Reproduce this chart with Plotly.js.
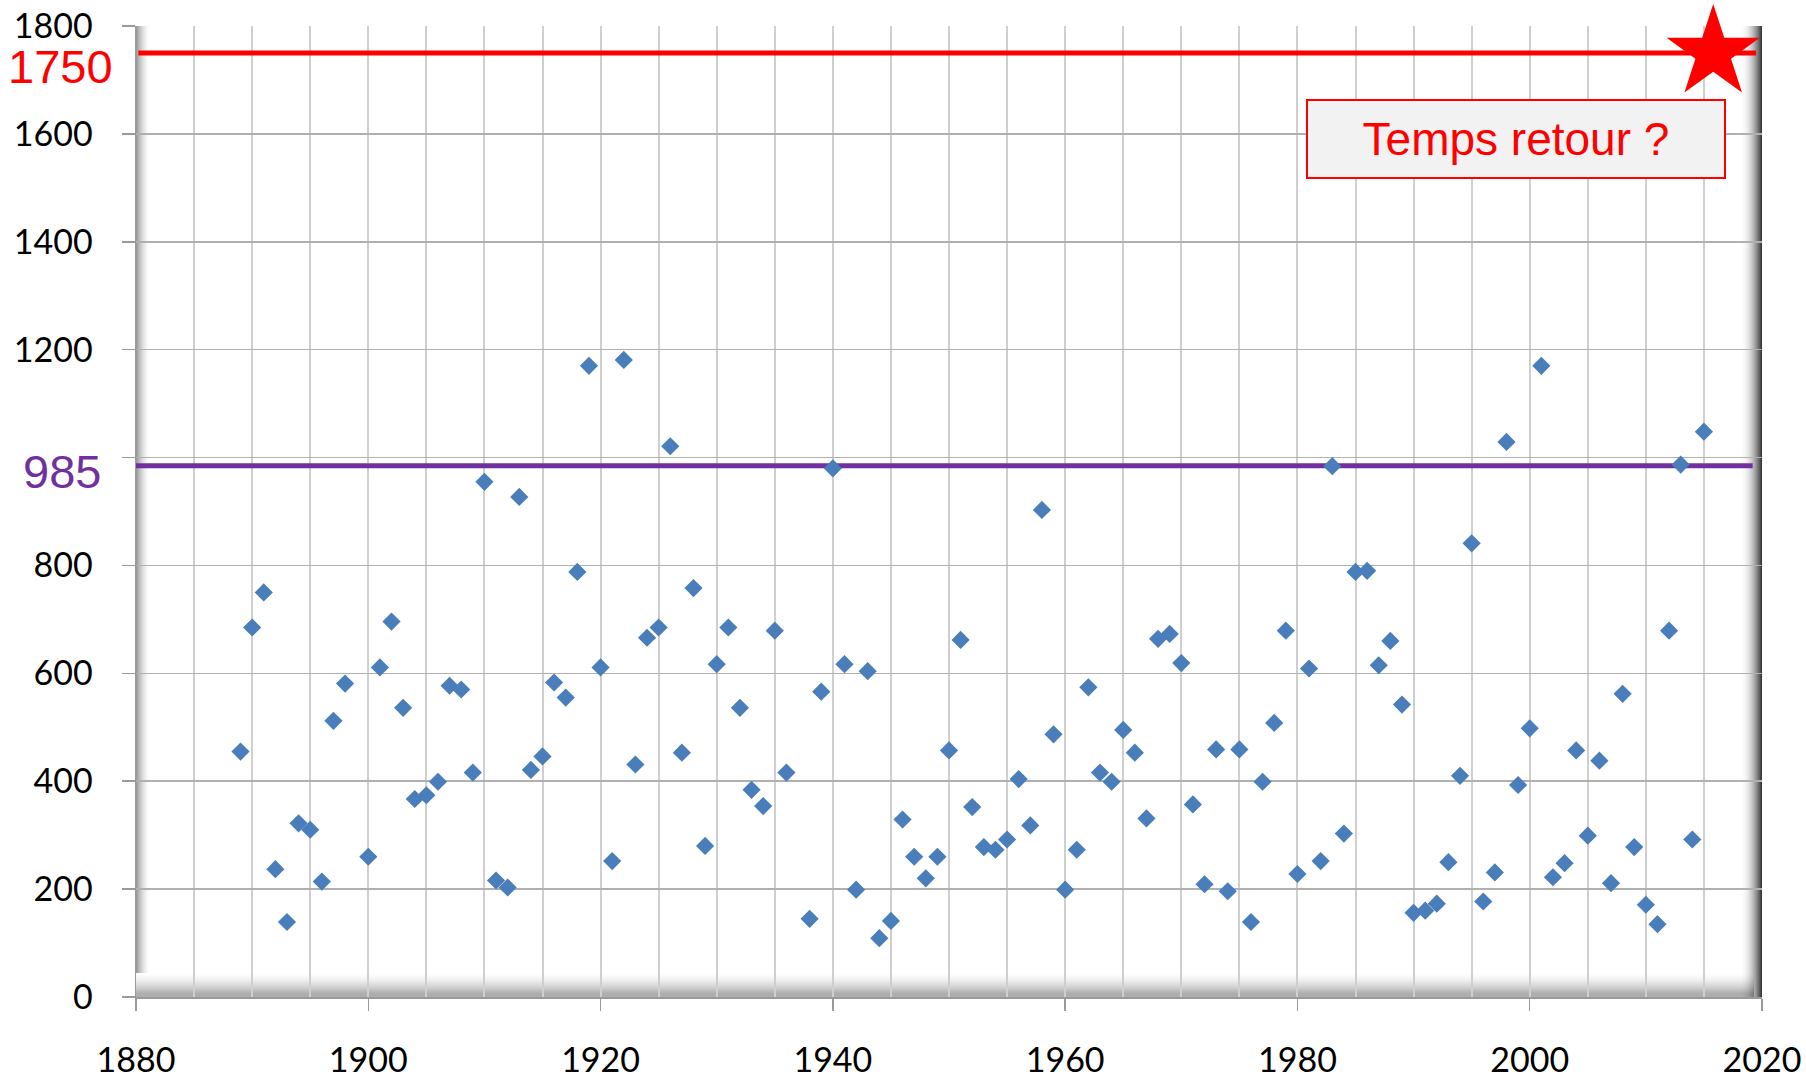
<!DOCTYPE html>
<html>
<head>
<meta charset="utf-8">
<script src="https://cdn.plot.ly/plotly-3.0.1.min.js"></script>
<style>
html,body{margin:0;padding:0;background:#fff;}
#chart{width:1806px;height:1078px;}
</style>
</head>
<body>
<div id="chart"></div>
<script>
// ---- Data ----
var years = [
  1889,1890,1891,1892,1893,1894,1895,1896,1897,1898,
  1900,1901,1902,1903,1904,1905,1906,1907,1908,1909,
  1910,1911,1912,1913,1914,1915,1916,1917,1918,1919,
  1920,1921,1922,1923,1924,1925,1926,1927,1928,1929,
  1930,1931,1932,1933,1934,1935,1936,1938,1939,
  1940,1941,1942,1943,1944,1945,1946,1947,1948,1949,
  1950,1951,1952,1953,1954,1955,1956,1957,1958,1959,
  1960,1961,1962,1963,1964,1965,1966,1967,1968,1969,
  1970,1971,1972,1973,1974,1975,1976,1977,1978,1979,
  1980,1981,1982,1983,1984,1985,1986,1987,1988,1989,
  1990,1991,1992,1993,1994,1995,1996,1997,1998,1999,
  2000,2001,2002,2003,2004,2005,2006,2007,2008,2009,
  2010,2011,2012,2013,2014,2015
];
var values = [
  455,685,750,237,139,322,310,214,512,581,
  260,611,696,536,367,374,399,577,570,416,
  955,216,203,927,421,446,583,555,788,1170,
  611,252,1181,431,666,685,1021,453,758,280,
  617,685,536,384,354,679,416,145,566,
  980,617,199,604,109,141,329,260,220,260,
  457,662,352,278,273,292,404,318,903,487,
  199,273,574,416,399,495,453,331,664,673,
  619,357,209,459,196,459,139,399,508,679,
  228,609,252,984,303,788,790,615,660,542,
  156,160,173,250,410,841,177,231,1029,393,
  498,1170,222,248,457,299,438,211,562,278,
  171,135,679,987,292,1048
];
var thresholdHigh = 1750;      // red line / star
var thresholdMid = 985;        // purple line
var lineSpanX = [1880.2, 2019.5];
var lineSpanXMid = [1879.7, 2019.2];
var starYear = [2015.8];
var starValue = [1750];
var yTicks = [0,200,400,600,800,1000,1200,1400,1600,1800];
var yTickText = ["0","200","400","600","800","","1200","1400","1600","1800"];
var xTicks = [1880,1900,1920,1940,1960,1980,2000,2020];
var boxLabel = "Temps retour ?";

// ---- Layout geometry ----
var ML = 136, MR = 44, MT = 26, MB = 81;
var W = 1806 - ML - MR, H = 1078 - MT - MB;

var shapes = [];
function strip(x0, x1, y0, y1, a) {
  shapes.push({type:'rect', xref:'paper', yref:'paper', layer:'below',
    x0:x0, x1:x1, y0:y0, y1:y1, line:{width:0}, fillcolor:'rgba(0,0,0,'+a.toFixed(3)+')'});
}
// right dark band (22px)
var RB = 22;
for (var i = 0; i < RB; i++) {
  var t = (i + 1) / RB;
  var a = 0.78 * Math.pow(t, 2.2);
  var px0 = W - RB + i, px1 = px0 + 1;
  strip(px0 / W, px1 / W, 0, 1, a);
}
// bottom band (24px)
var BB = 24;
for (var j = 0; j < BB; j++) {
  var tb = (j + 1) / BB;
  var ab = 0.40 * Math.pow(tb, 1.6);
  if (j >= BB - 3) ab = 0.32;
  var yTop = (BB - j) / H, yBot = (BB - j - 1) / H;
  strip(0, (W - 8) / W, yBot, yTop, ab);
}
// left band (14px)
var LB = 14;
for (var k = 0; k < LB; k++) {
  var tl = 1 - k / LB;
  var al = 0.40 * Math.pow(tl, 1.8);
  strip(k / W, (k + 1) / W, BB / H, 1, al);
}

var traces = [
  {x: lineSpanX, y: [thresholdHigh, thresholdHigh], mode:'lines', type:'scatter',
   line:{color:'#FF0000', width:5}, hoverinfo:'skip'},
  {x: lineSpanXMid, y: [thresholdMid, thresholdMid], mode:'lines', type:'scatter',
   line:{color:'#7030A0', width:5}, hoverinfo:'skip'},
  {x: years, y: values, mode:'markers', type:'scatter',
   marker:{symbol:'diamond', size:14, color:'#4A7EBB', line:{width:0}}},
  {x: starYear, y: starValue, mode:'markers', type:'scatter', cliponaxis:false,
   marker:{symbol:'star', size:70, color:'#FF0000', line:{width:0}}}
];

var layout = {
  width:1806, height:1078,
  margin:{l:ML, r:MR, t:MT, b:MB},
  paper_bgcolor:'#ffffff', plot_bgcolor:'#ffffff',
  showlegend:false,
  font:{family:'Lato, sans-serif', size:34, color:'#000000'},
  xaxis:{
    range:[1880,2020], tickvals:xTicks, ticktext:xTicks.map(String),
    showgrid:true, gridcolor:'#CFCFCF', gridwidth:2,
    minor:{dtick:5, tick0:1880, showgrid:true, gridcolor:'#CFCFCF', gridwidth:2, ticks:''},
    ticks:'outside', ticklen:12, tickcolor:'#9A9A9A', tickwidth:1.5,
    showline:true, linecolor:'#9A9A9A', linewidth:1.5,
    zeroline:false, ticklabelstandoff:21,
    tickfont:{family:'Lato, sans-serif', size:34, color:'#000'}
  },
  yaxis:{
    range:[0,1800], tickvals:yTicks, ticktext:yTickText,
    showgrid:true, gridcolor:'#B0B0B0', gridwidth:1.5,
    ticks:'outside', ticklen:13, tickcolor:'#9A9A9A', tickwidth:1.5,
    showline:true, linecolor:'#9A9A9A', linewidth:1.5,
    zeroline:false, ticklabelstandoff:22,
    tickfont:{family:'Lato, sans-serif', size:34, color:'#000'}
  },
  shapes: shapes,
  annotations:[
    {xref:'paper', yref:'y', x:(60-ML)/W, y:thresholdHigh, yshift:-14, xanchor:'center', yanchor:'middle',
     text:String(thresholdHigh), showarrow:false,
     font:{family:'Liberation Sans, Arial, sans-serif', size:47, color:'#FF0000'}},
    {xref:'paper', yref:'y', x:(62-ML)/W, y:thresholdMid, yshift:-6, xanchor:'center', yanchor:'middle',
     text:String(thresholdMid), showarrow:false,
     font:{family:'Liberation Sans, Arial, sans-serif', size:47, color:'#7030A0'}},
    {xref:'paper', yref:'paper', x:(1516-ML)/W, y:(1078-MB-139)/H, xanchor:'center', yanchor:'middle',
     text:boxLabel, showarrow:false, width:414, height:74, borderpad:1,
     bgcolor:'#F2F2F2', bordercolor:'#FF0000', borderwidth:2,
     font:{family:'Liberation Sans, Arial, sans-serif', size:46, color:'#FF0000'}}
  ]
};

Plotly.newPlot('chart', traces, layout, {displayModeBar:false, staticPlot:true});
</script>
</body>
</html>
